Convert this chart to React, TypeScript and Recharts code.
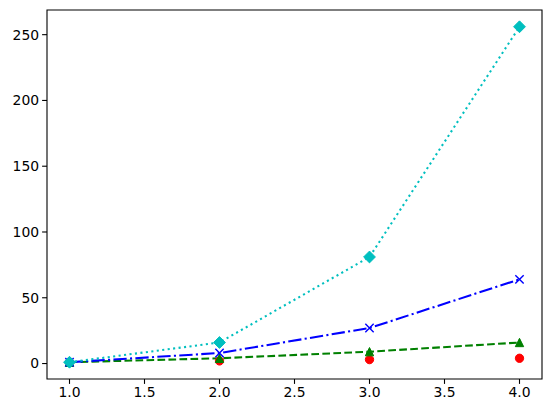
import { LineChart, Line, XAxis, YAxis, ReferenceArea } from "recharts";

const xs = [1, 2, 3, 4];
const linear = [1, 2, 3, 4];
const squares = [1, 4, 9, 16];
const cubes = [1, 8, 27, 64];
const quartics = [1, 16, 81, 256];
const xTicks = [1, 1.5, 2, 2.5, 3, 3.5, 4];
const yTicks = [0, 50, 100, 150, 200, 250];

const data = xs.map((x, i) => ({
  x,
  a: linear[i],
  b: squares[i],
  c: cubes[i],
  d: quartics[i],
}));

const S = 4.17;

const CircleDot = (props: any) => {
  const { cx, cy } = props;
  return <circle cx={cx} cy={cy} r={S} fill="#ff0000" stroke="#ff0000" strokeWidth={1} />;
};

const TriangleDot = (props: any) => {
  const { cx, cy } = props;
  return (
    <polygon
      points={`${cx},${cy - S} ${cx - S},${cy + S} ${cx + S},${cy + S}`}
      fill="#008000"
      stroke="#008000"
      strokeWidth={1}
    />
  );
};

const CrossDot = (props: any) => {
  const { cx, cy } = props;
  return (
    <path
      d={`M${cx - S},${cy - S}L${cx + S},${cy + S}M${cx - S},${cy + S}L${cx + S},${cy - S}`}
      stroke="#0000ff"
      strokeWidth={1.4}
      fill="none"
    />
  );
};

const DiamondDot = (props: any) => {
  const { cx, cy } = props;
  const h = 5.9;
  return (
    <polygon
      points={`${cx},${cy - h} ${cx + h},${cy} ${cx},${cy + h} ${cx - h},${cy}`}
      fill="#00bfbf"
      stroke="#00bfbf"
      strokeWidth={1}
    />
  );
};

const tickStyle = { fill: "#000", fontSize: 13.9, fontFamily: "DejaVu Sans" };

export default function App() {
  return (
    <div style={{ position: "absolute", left: 0, top: 0, background: "#fff" }}>
      <LineChart
        width={552}
        height={413}
        data={data}
        margin={{ top: 10, right: 10, bottom: 0, left: 0 }}
      >
        <XAxis
          dataKey="x"
          type="number"
          domain={[0.85, 4.15]}
          ticks={xTicks}
          tickFormatter={(v: number) => v.toFixed(1)}
          height={34}
          axisLine={false}
          tickLine={{ stroke: "#000", strokeWidth: 1.1 }}
          tickSize={4.9}
          tickMargin={3}
          tick={tickStyle}
          allowDataOverflow
          interval={0}
        />
        <YAxis
          type="number"
          domain={[-11.75, 268.75]}
          ticks={yTicks}
          width={47}
          axisLine={false}
          tickLine={{ stroke: "#000", strokeWidth: 1.1 }}
          tickSize={4.9}
          tickMargin={3}
          tick={tickStyle}
          allowDataOverflow
          interval={0}
        />
        <Line
          dataKey="a"
          stroke="none"
          dot={<CircleDot />}
          activeDot={false}
          isAnimationActive={false}
        />
        <Line
          dataKey="b"
          stroke="#008000"
          strokeWidth={2.08}
          strokeDasharray="7.7 3.3"
          dot={<TriangleDot />}
          activeDot={false}
          isAnimationActive={false}
        />
        <Line
          dataKey="c"
          stroke="#0000ff"
          strokeWidth={2.08}
          strokeDasharray="13.3 3.3 2.1 3.3"
          dot={<CrossDot />}
          activeDot={false}
          isAnimationActive={false}
        />
        <Line
          dataKey="d"
          stroke="#00bfbf"
          strokeWidth={2.08}
          strokeDasharray="2.1 3.4"
          dot={<DiamondDot />}
          activeDot={false}
          isAnimationActive={false}
        />
        <ReferenceArea
          x1={0.85}
          x2={4.15}
          y1={-11.75}
          y2={268.75}
          fill="none"
          stroke="#000"
          strokeWidth={1.1}
          ifOverflow="visible"
        />
      </LineChart>
    </div>
  );
}
